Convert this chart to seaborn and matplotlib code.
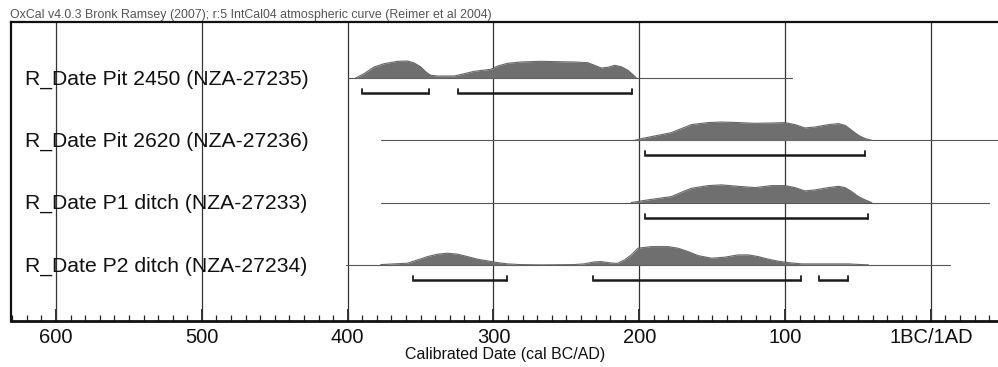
import matplotlib
matplotlib.use("Agg")
import matplotlib.pyplot as plt
import matplotlib.transforms as mtransforms
from matplotlib.ticker import MultipleLocator, FixedLocator
import seaborn as sns
import pandas as pd

# ---------------- data (years cal BC; negative = AD) ----------------
labels = [
    "R_Date Pit 2450 (NZA-27235)",
    "R_Date Pit 2620 (NZA-27236)",
    "R_Date P1 ditch (NZA-27233)",
    "R_Date P2 ditch (NZA-27234)",
]

# probability distributions (year BC, relative height)
pit2450_years = [394.5, 388.8, 381.9, 375.0, 365.8, 359.0, 354.4, 349.8, 346.4, 343.0, 338.4,
                 326.9, 320.0, 313.2, 301.7, 297.1, 290.3, 281.1, 267.4, 255.9, 244.4, 235.3,
                 230.7, 226.1, 221.5, 217.0, 212.4, 207.8, 204.3, 202.0]
pit2450_prob = [0.0, 4.3, 11.0, 14.3, 16.7, 17.0, 15.0, 11.0, 6.0, 2.7, 2.0,
                2.0, 4.3, 6.7, 8.7, 12.0, 14.7, 16.0, 16.7, 16.3, 16.0, 15.3,
                12.7, 10.0, 10.7, 12.7, 11.3, 7.7, 3.3, 0.0]

pit2620_years = [203.2, 198.6, 189.5, 178.0, 171.1, 164.3, 152.8, 143.6, 132.2, 120.7, 109.3,
                 100.1, 93.2, 86.4, 79.5, 70.3, 63.4, 58.9, 54.3, 49.7, 45.1, 40.5]
pit2620_prob = [0.0, 1.7, 4.3, 7.7, 11.7, 15.7, 17.7, 18.3, 17.7, 17.0, 17.3,
                17.7, 15.7, 12.3, 13.3, 15.7, 16.7, 15.0, 10.0, 5.0, 1.7, 0.0]

p1ditch_years = [205.5, 198.6, 189.5, 178.0, 171.1, 164.3, 152.8, 143.6, 132.2, 120.7, 109.3,
                 100.1, 93.2, 86.4, 79.5, 70.3, 63.4, 58.9, 54.3, 49.7, 45.1, 40.5]
p1ditch_prob = [0.0, 1.7, 3.7, 6.0, 10.3, 14.3, 17.0, 17.7, 16.3, 15.0, 17.0,
                17.0, 15.0, 11.7, 12.7, 15.0, 16.3, 15.0, 11.0, 6.0, 2.7, 0.0]

p2ditch_years = [377.3, 359.0, 352.1, 345.2, 338.4, 331.5, 324.6, 317.8, 310.9, 304.0, 297.1,
                 290.3, 281.1, 267.4, 245.0, 238.0, 231.0, 226.0, 220.0, 215.0, 210.1, 205.5,
                 200.9, 191.8, 180.3, 173.4, 166.5, 159.7, 150.5, 141.4, 132.2, 125.3, 118.4,
                 111.5, 104.7, 97.8, 88.7, 79.5, 65.8, 56.6, 47.4, 42.8]
p2ditch_prob = [0.3, 1.7, 5.0, 8.3, 10.7, 11.7, 10.7, 8.3, 5.7, 4.0, 2.3,
                1.0, 0.3, 0.0, 0.3, 1.0, 3.0, 3.3, 2.0, 1.5, 5.0, 10.0,
                16.7, 18.3, 18.3, 16.7, 13.3, 9.3, 6.7, 7.7, 10.0, 10.0, 8.3,
                5.7, 3.7, 2.3, 1.0, 1.0, 1.0, 1.0, 0.3, 0.0]

# extent of the thin baseline of each distribution (start BC, end BC)
line_extent = [(400, 95.5), (377, -47), (377, -40), (401, -13)]

# 95.4% ranges (from BC, to BC)
ranges = [
    [(390, 344), (324, 205)],
    [(196, 45)],
    [(196, 43)],
    [(355, 291), (232, 89), (77, 57)],
]

tick_values = [600, 500, 400, 300, 200, 100, 0]
tick_labels = ["600", "500", "400", "300", "200", "100", "1BC/1AD"]

header = "OxCal v4.0.3 Bronk Ramsey (2007); r:5 IntCal04 atmospheric curve (Reimer et al 2004)"
xlabel = "Calibrated Date (cal BC/AD)"

dists = [
    (pit2450_years, pit2450_prob),
    (pit2620_years, pit2620_prob),
    (p1ditch_years, p1ditch_prob),
    (p2ditch_years, p2ditch_prob),
]

# ---------------- style ----------------
sns.set_theme(style="white")
plt.rcParams["font.family"] = ["Liberation Sans", "DejaVu Sans"]

W, H = 998, 367
fig = plt.figure(figsize=(W / 100, H / 100), dpi=100)
ax = fig.add_axes([11 / W, 1 - 321 / H, 1.0 - 11 / W + 0.002, (321 - 22) / H])

ax.set_xlim(630.9, -47.4)
ax.set_ylim(321, 22)

row_y0 = 78.0
row_step = 62.3
fill_col = "#6f6f6f"

for i, (yrs, pr) in enumerate(dists):
    base = row_y0 + i * row_step
    s, e = line_extent[i]
    ax.plot([s, e], [base, base], color="#555555", lw=0.8, zorder=2)
    df = pd.DataFrame({"year": yrs, "y": [base - p for p in pr]})
    ax.fill_between(df["year"], base, df["y"], color=fill_col, lw=0, zorder=3)
    sns.lineplot(data=df, x="year", y="y", ax=ax, color="#666666", lw=0.8,
                 sort=False, estimator=None, zorder=3)
    by = base + 15
    for a, b in ranges[i]:
        ax.plot([a, b], [by, by], color="#1a1a1a", lw=1.8, solid_capstyle="butt", zorder=4)
        for c in (a, b):
            ax.plot([c, c], [by - 4, by + 1], color="#1a1a1a", lw=1.3, zorder=4)

trans = mtransforms.blended_transform_factory(fig.transFigure, ax.transData)
for i, lab in enumerate(labels):
    base = row_y0 + i * row_step
    ax.text(25 / W, base + 1, lab, transform=trans, ha="left", va="center",
            fontsize=15.2, color="#111111", zorder=5)

ax.xaxis.set_major_locator(FixedLocator(tick_values))
ax.xaxis.set_minor_locator(MultipleLocator(10))
ax.set_xticklabels(tick_labels, fontsize=14.5, color="#111111")
ax.set_yticks([])
ax.set_ylabel("")
for v in tick_values:
    ax.axvline(v, color="#333333", lw=0.9, zorder=1)
ax.tick_params(axis="x", which="major", direction="in", length=9, width=1.2,
               color="#111111", pad=5, bottom=True)
ax.tick_params(axis="x", which="minor", direction="in", length=4, width=0.9,
               color="#222222", bottom=True)
ax.set_xlabel(xlabel, fontsize=11.5, color="#111111", labelpad=0)

for side in ("left", "top"):
    ax.spines[side].set_color("#111111")
    ax.spines[side].set_linewidth(1.6)
ax.spines["bottom"].set_color("#111111")
ax.spines["bottom"].set_linewidth(2.0)
ax.spines["right"].set_visible(False)
ax.grid(False)

fig.text(10 / W, 1 - 15 / H, header, ha="left", va="center", fontsize=8.9, color="#555555")

fig.savefig("out.png", dpi=100, facecolor="white")
